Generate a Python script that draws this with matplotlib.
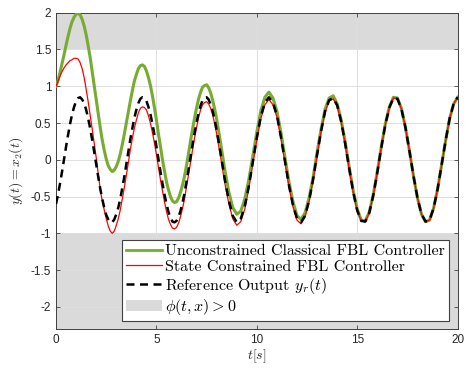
import numpy as np
import matplotlib
matplotlib.use("Agg")
import matplotlib.pyplot as plt
from matplotlib.patches import Patch

# time samples (s): every 0.1 s up to 8 s, then every 0.2 s
t = np.concatenate([np.linspace(0, 8, 81), np.linspace(8.2, 20, 60)])

# reference output y_r(t)
y_ref = [-0.60, -0.47, -0.32, -0.16, 0.01, 0.18, 0.34, 0.49, 0.62, 0.72,
         0.80, 0.84, 0.85, 0.82, 0.77, 0.68, 0.56, 0.43, 0.27, 0.11,
         -0.06, -0.23, -0.39, -0.53, -0.65, -0.75, -0.81, -0.85, -0.85, -0.81,
         -0.74, -0.65, -0.53, -0.38, -0.23, -0.06, 0.11, 0.28, 0.43, 0.57,
         0.68, 0.77, 0.83, 0.85, 0.84, 0.80, 0.72, 0.62, 0.49, 0.34,
         0.18, 0.01, -0.16, -0.32, -0.47, -0.60, -0.71, -0.79, -0.84, -0.85,
         -0.83, -0.78, -0.69, -0.58, -0.45, -0.29, -0.13, 0.04, 0.21, 0.37,
         0.51, 0.64, 0.74, 0.81, 0.84, 0.85, 0.82, 0.75, 0.66, 0.54,
         0.40,
         0.08, -0.26, -0.55, -0.76, -0.85, -0.80, -0.63, -0.36, -0.03, 0.30,
         0.59, 0.78, 0.85, 0.78, 0.60, 0.31, -0.02, -0.35, -0.62, -0.80,
         -0.85, -0.76, -0.56, -0.27, 0.07, 0.39, 0.66, 0.81, 0.84, 0.74,
         0.52, 0.22, -0.12, -0.44, -0.69, -0.83, -0.84, -0.72, -0.48, -0.17,
         0.17, 0.48, 0.71, 0.84, 0.83, 0.69, 0.44, 0.12, -0.22, -0.52,
         -0.74, -0.84, -0.82, -0.66, -0.40, -0.07, 0.26, 0.56, 0.76, 0.85]

# unconstrained classical FBL controller
y_fbl = [1.00, 1.08, 1.19, 1.31, 1.43, 1.56, 1.68, 1.79, 1.88, 1.94,
         1.98, 1.99, 1.97, 1.91, 1.82, 1.70, 1.55, 1.39, 1.20, 1.01,
         0.82, 0.62, 0.44, 0.27, 0.13, 0.01, -0.08, -0.13, -0.16, -0.14,
         -0.09, -0.02, 0.08, 0.21, 0.35, 0.50, 0.65, 0.80, 0.94, 1.07,
         1.16, 1.24, 1.28, 1.29, 1.27, 1.21, 1.12, 1.01, 0.87, 0.71,
         0.54, 0.35, 0.18, 0.00, -0.15, -0.30, -0.41, -0.50, -0.56, -0.58,
         -0.57, -0.52, -0.44, -0.34, -0.22, -0.07, 0.09, 0.26, 0.42, 0.57,
         0.71, 0.83, 0.92, 0.99, 1.01, 1.02, 0.98, 0.91, 0.81, 0.69,
         0.55,
         0.22, -0.13, -0.43, -0.65, -0.74, -0.70, -0.53, -0.27, 0.05, 0.38,
         0.67, 0.85, 0.92, 0.84, 0.66, 0.37, 0.03, -0.30, -0.57, -0.76,
         -0.81, -0.72, -0.52, -0.24, 0.10, 0.42, 0.69, 0.84, 0.87, 0.76,
         0.54, 0.24, -0.10, -0.42, -0.67, -0.82, -0.83, -0.71, -0.47, -0.16,
         0.18, 0.49, 0.72, 0.85, 0.84, 0.70, 0.44, 0.12, -0.22, -0.52,
         -0.74, -0.84, -0.82, -0.66, -0.40, -0.07, 0.26, 0.56, 0.76, 0.85]

# state constrained FBL controller
y_scfbl = [1.00, 1.07, 1.14, 1.20, 1.25, 1.29, 1.32, 1.35, 1.36, 1.38,
           1.38, 1.37, 1.32, 1.24, 1.12, 0.96, 0.79, 0.61, 0.42, 0.23,
           0.03, -0.19, -0.40, -0.56, -0.68, -0.80, -0.90, -0.97, -1.00, -0.97,
           -0.89, -0.80, -0.68, -0.53, -0.38, -0.21, -0.04, 0.14, 0.29, 0.43,
           0.54, 0.64, 0.70, 0.72, 0.71, 0.68, 0.60, 0.50, 0.37, 0.23,
           0.07, -0.10, -0.27, -0.42, -0.57, -0.70, -0.81, -0.88, -0.93, -0.94,
           -0.92, -0.86, -0.77, -0.66, -0.53, -0.36, -0.20, -0.03, 0.14, 0.30,
           0.44, 0.58, 0.68, 0.75, 0.78, 0.79, 0.76, 0.70, 0.61, 0.49,
           0.35,
           0.03, -0.31, -0.59, -0.80, -0.89, -0.84, -0.67, -0.39, -0.06, 0.27,
           0.56, 0.75, 0.82, 0.75, 0.58, 0.29, -0.04, -0.37, -0.64, -0.82,
           -0.87, -0.78, -0.57, -0.28, 0.06, 0.38, 0.65, 0.80, 0.83, 0.73,
           0.51, 0.21, -0.13, -0.45, -0.70, -0.83, -0.84, -0.72, -0.48, -0.17,
           0.17, 0.48, 0.71, 0.84, 0.83, 0.69, 0.44, 0.12, -0.22, -0.52,
           -0.74, -0.84, -0.82, -0.66, -0.40, -0.07, 0.26, 0.56, 0.76, 0.85]

# output constraint: phi(t,x) > 0 outside [y_low, y_high]
y_low = -1.0
y_high = 1.5
t_lim = (0, 20)
y_lim = (-2.3, 2)

plt.rcParams["mathtext.fontset"] = "cm"
plt.rcParams["font.family"] = ["Liberation Sans", "DejaVu Sans"]

fig = plt.figure(figsize=(4.67, 3.71), dpi=100)
ax = fig.add_axes([0.12, 0.1132, 0.86, 0.8526])

gray = "#dadada"
ax.fill_between(t_lim, y_high, y_lim[1], color=gray, lw=0, zorder=1)
ax.fill_between(t_lim, y_lim[0], y_low, color=gray, lw=0, zorder=1)

green = (0.466, 0.674, 0.188)
dash = (0, (3.2, 2.2))
ax.plot(t, y_fbl, color=green, lw=2.2, zorder=3, solid_joinstyle="round")
ax.plot(t, y_scfbl, color="red", lw=0.9, zorder=4, solid_joinstyle="round")
ax.plot(t, y_ref, color="black", lw=1.8, ls=dash, zorder=5,
        dash_joinstyle="round")

ax.set_xlim(t_lim)
ax.set_ylim(y_lim)
ax.set_xticks([0, 5, 10, 15, 20])
ax.set_yticks(np.arange(-2, 2.01, 0.5))
ax.set_yticklabels(["-2", "-1.5", "-1", "-0.5", "0", "0.5", "1", "1.5", "2"])

ax.set_axisbelow("line")
ax.grid(True, color="#dedede", lw=0.7)
for s in ax.spines.values():
    s.set_color("#404040")
    s.set_linewidth(0.7)
ax.tick_params(direction="in", length=3, width=0.6, color="#404040",
               labelsize=8.5, labelcolor="#262626", top=True, right=True)

ax.set_xlabel("$t[s]$", fontsize=10, color="#262626", labelpad=1)
ax.set_ylabel("$y(t) = x_2(t)$", fontsize=10, color="#262626", labelpad=4)

handles = [
    plt.Line2D([], [], color=green, lw=2.0),
    plt.Line2D([], [], color="red", lw=0.9),
    plt.Line2D([], [], color="black", lw=1.8, ls=dash),
    Patch(facecolor=gray, edgecolor="none"),
]
labels = ["Unconstrained Classical FBL Controller",
          "State Constrained FBL Controller",
          "Reference Output $y_r(t)$",
          r"$\phi(t,x) > 0$"]
leg = ax.legend(handles, labels, loc="lower right", bbox_to_anchor=(0.978, 0.025),
                prop={"family": "cmr10", "size": 11.5}, handlelength=2.3,
                handletextpad=0.17, labelspacing=0.1, borderpad=0.25,
                fancybox=False, framealpha=1, borderaxespad=0)
leg.get_frame().set_edgecolor("#404040")
leg.get_frame().set_linewidth(0.8)

fig.savefig("out.png", dpi=100)
